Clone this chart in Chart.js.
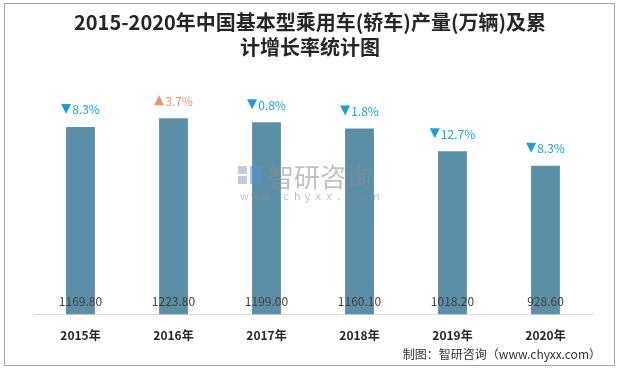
<!DOCTYPE html>
<html>
<head>
<meta charset="utf-8">
<script src="https://cdn.jsdelivr.net/npm/chart.js@4"></script>
<style>
  html, body { margin: 0; padding: 0; background: #fff; }
  #wrap { position: relative; width: 619px; height: 369px; }
</style>
</head>
<body>
<div id="wrap"><canvas id="chart" width="619" height="369"></canvas></div>
<script>
// chart data
const years = ['2015年', '2016年', '2017年', '2018年', '2019年', '2020年'];
const output = [1169.80, 1223.80, 1199.00, 1160.10, 1018.20, 928.60];
const growth = [-8.3, 3.7, -0.8, -1.8, -12.7, -8.3];

const titleLines = ['2015-2020年中国基本型乘用车(轿车)产量(万辆)及累', '计增长率统计图'];
const sourceText = '制图：智研咨询（www.chyxx.com）';

const CJK = '"Noto Sans CJK SC", "Noto Sans", sans-serif';

/**
 * Frame, title, source and watermark
 */
const decorPlugin = {
    id: 'decor',
    beforeDraw(chart) {
        const ctx = chart.ctx;
        ctx.save();
        ctx.strokeStyle = '#a6a6a6';
        ctx.lineWidth = 1;
        ctx.strokeRect(4.5, 3.5, 610, 362);

        ctx.fillStyle = '#262626';
        ctx.font = 'bold 20px ' + CJK;
        ctx.textAlign = 'center';
        ctx.textBaseline = 'middle';
        ctx.fillText(titleLines[0], 310, 22);
        ctx.fillText(titleLines[1], 310, 47);

        ctx.font = '12px ' + CJK;
        ctx.fillStyle = '#333';
        ctx.textAlign = 'right';
        ctx.fillText(sourceText, 601, 354);
        ctx.restore();
    },
    afterDatasetsDraw(chart) {
        const ctx = chart.ctx;
        const meta = chart.getDatasetMeta(0);
        ctx.save();

        // value labels inside the bars
        ctx.font = '12px ' + CJK;
        ctx.fillStyle = '#404040';
        ctx.textAlign = 'center';
        ctx.textBaseline = 'middle';
        meta.data.forEach((bar, i) => {
            ctx.fillText(output[i].toFixed(2), bar.x, chart.chartArea.bottom - 13);
        });

        // growth labels above the bars
        meta.data.forEach((bar, i) => {
            const up = growth[i] >= 0;
            const color = up ? '#f0917a' : '#1a9fdc';
            const text = Math.abs(growth[i]).toFixed(1) + '%';
            ctx.font = '12px ' + CJK;
            const tw = ctx.measureText(text).width;
            const total = 11 + tw;
            const x0 = bar.x - total / 2;
            const y = bar.y - 18;
            ctx.fillStyle = color;
            ctx.beginPath();
            if (up) {
                ctx.moveTo(x0, y + 5);
                ctx.lineTo(x0 + 10, y + 5);
                ctx.lineTo(x0 + 5, y - 5);
            } else {
                ctx.moveTo(x0, y - 5);
                ctx.lineTo(x0 + 10, y - 5);
                ctx.lineTo(x0 + 5, y + 5);
            }
            ctx.closePath();
            ctx.fill();
            ctx.textAlign = 'left';
            ctx.fillText(text, x0 + 11, y + 1);
        });

        // watermark
        ctx.globalAlpha = 0.55;
        ctx.fillStyle = '#8fa3c8';
        ctx.fillRect(238, 166, 9, 8);
        ctx.fillRect(238, 176, 9, 8);
        ctx.fillStyle = '#5b8fd0';
        ctx.fillRect(250, 166, 12, 18);
        ctx.fillStyle = '#8c8c8c';
        ctx.font = '26px ' + CJK;
        ctx.textAlign = 'left';
        ctx.fillText('智研咨询', 268, 177);
        ctx.font = '11px ' + CJK;
        const url = 'www.chyxx.com';
        for (let i = 0; i < url.length; i++) {
            ctx.fillText(url[i], 240 + i * 10.8, 196);
        }
        ctx.restore();
    }
};

new Chart(document.getElementById('chart'), {
    type: 'bar',
    data: {
        labels: years,
        datasets: [{
            data: output,
            backgroundColor: '#5b8fa8',
            barPercentage: 0.62,
            categoryPercentage: 0.5
        }]
    },
    options: {
        responsive: false,
        animation: false,
        layout: { padding: { left: 34, right: 27, top: 90, bottom: 12 } },
        plugins: {
            legend: { display: false },
            tooltip: { enabled: false }
        },
        scales: {
            x: {
                grid: { display: false, drawTicks: false },
                border: { color: '#d9d9d9', width: 1 },
                ticks: {
                    padding: 14,
                    color: '#262626',
                    font: { family: CJK, size: 12, weight: 'bold' }
                }
            },
            y: {
                display: false,
                min: 0,
                max: 1400
            }
        }
    },
    plugins: [decorPlugin]
});
</script>
</body>
</html>
